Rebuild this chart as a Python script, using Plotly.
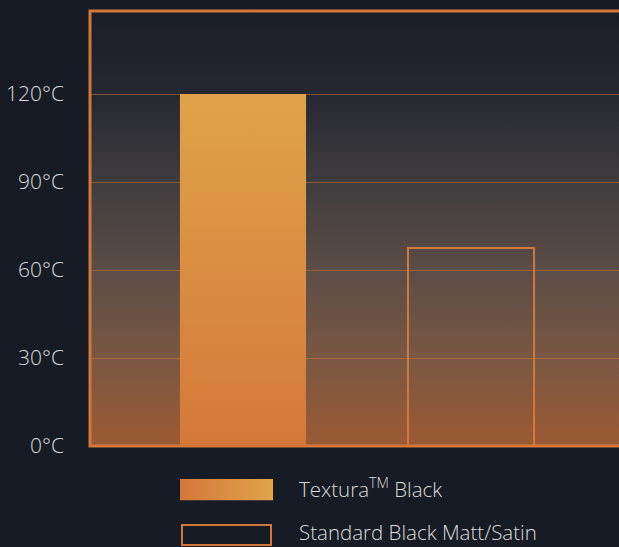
import base64
import plotly.graph_objects as go

# ---- data ----
categories = ["Textura™ Black", "Standard Black Matt/Satin"]
legend_labels = ["Textura<sup>TM</sup> Black", "Standard Black Matt/Satin"]
values = [120, 67.5]
tick_values = [0, 30, 60, 90, 120]
tick_labels = ["0°C", "30°C", "60°C", "90°C", "120°C"]

# ---- style ----
ORANGE = "#d4783a"
ORANGE_LIGHT = "#e0a34a"
PAPER_BG = "#171b25"
TEXT = "#dcdcdc"
FONT = "Open Sans"
BAR_W = 0.553


def svg_uri(svg):
    return "data:image/svg+xml;base64," + base64.b64encode(svg.encode()).decode()


bg_svg = (
    '<svg xmlns="http://www.w3.org/2000/svg" width="100" height="100" preserveAspectRatio="none">'
    '<defs><linearGradient id="g" x1="0" y1="0" x2="0" y2="1">'
    '<stop offset="0" stop-color="#191d28"/>'
    '<stop offset="0.19" stop-color="#262831"/>'
    '<stop offset="0.40" stop-color="#403d3f"/>'
    '<stop offset="0.60" stop-color="#5c4d47"/>'
    '<stop offset="0.80" stop-color="#7a5843"/>'
    '<stop offset="1" stop-color="#9c5a34"/>'
    '</linearGradient></defs><rect width="100" height="100" fill="url(#g)"/></svg>'
)
swatch_svg = (
    '<svg xmlns="http://www.w3.org/2000/svg" width="100" height="20" preserveAspectRatio="none">'
    '<defs><linearGradient id="h" x1="0" y1="0" x2="1" y2="0">'
    f'<stop offset="0" stop-color="{ORANGE}"/><stop offset="1" stop-color="{ORANGE_LIGHT}"/>'
    '</linearGradient></defs><rect width="100" height="20" fill="url(#h)"/></svg>'
)

fig = go.Figure()

# Textura bar: gradient-filled bar built from its value
x0, x1 = 0 - BAR_W / 2, 0 + BAR_W / 2
fig.add_trace(go.Scatter(
    x=[x0, x1, x1, x0, x0], y=[0, 0, values[0], values[0], 0],
    mode="lines", line=dict(width=0), fill="toself",
    fillgradient=dict(type="vertical", start=0, stop=values[0],
                      colorscale=[[0, ORANGE], [1, ORANGE_LIGHT]]),
    name=categories[0], showlegend=False, hoverinfo="skip",
))

# Standard bar: outline only
fig.add_trace(go.Bar(
    x=[1], y=[values[1]], width=BAR_W,
    marker=dict(color="rgba(0,0,0,0)", line=dict(color=ORANGE, width=2)),
    name=categories[1], showlegend=False, hoverinfo="skip",
))

W, H = 619, 547
L, T, B = 90, 11, 101
plot_w = W - L
plot_h = H - T - B


def px_x(px):
    return (px - L) / plot_w


def px_y(py):
    return (H - B - py) / plot_h


fig.update_layout(
    width=W, height=H,
    margin=dict(l=L, r=0, t=T, b=B, pad=0),
    paper_bgcolor=PAPER_BG, plot_bgcolor="rgba(0,0,0,0)",
    showlegend=False,
    font=dict(family=FONT, color=TEXT, size=21),
    xaxis=dict(range=[-0.671, 1.649], showticklabels=False, showgrid=False,
               zeroline=False, showline=False, ticks=""),
    yaxis=dict(range=[0, 148.3], tickvals=tick_values, ticktext=tick_labels,
               showgrid=True, gridcolor="rgba(214,120,58,0.5)", gridwidth=1,
               zeroline=False, showline=False, ticks="", ticklabelstandoff=25,
               tickfont=dict(family=FONT, size=21, color=TEXT, weight=300)),
    images=[
        dict(source=svg_uri(bg_svg), xref="paper", yref="paper", x=0, y=1,
             sizex=1, sizey=1, xanchor="left", yanchor="top",
             sizing="stretch", layer="below"),
        dict(source=svg_uri(swatch_svg), xref="paper", yref="paper",
             x=px_x(180), y=px_y(479), sizex=93 / plot_w, sizey=21.5 / plot_h,
             xanchor="left", yanchor="top", sizing="stretch", layer="above"),
    ],
    shapes=[
        dict(type="rect", xref="paper", yref="paper", x0=0, x1=1.2, y0=0, y1=1,
             line=dict(color=ORANGE, width=3), fillcolor="rgba(0,0,0,0)"),
        dict(type="rect", xref="paper", yref="paper",
             x0=px_x(182), x1=px_x(271), y0=px_y(545), y1=px_y(525),
             line=dict(color=ORANGE, width=2), fillcolor="rgba(0,0,0,0)"),
    ],
    annotations=[
        dict(text=legend_labels[0], xref="paper", yref="paper", x=px_x(297), y=px_y(488),
             xanchor="left", yanchor="middle", showarrow=False,
             font=dict(family=FONT, size=20.5, color=TEXT, weight=300)),
        dict(text=legend_labels[1], xref="paper", yref="paper", x=px_x(297), y=px_y(532),
             xanchor="left", yanchor="middle", showarrow=False,
             font=dict(family=FONT, size=20.5, color=TEXT, weight=300)),
    ],
)

fig.write_html(
    "out.html",
    config={"displayModeBar": False},
    post_script="document.body.style.margin='0';document.body.style.overflow='hidden';"
                f"document.body.style.background='{PAPER_BG}';",
)
